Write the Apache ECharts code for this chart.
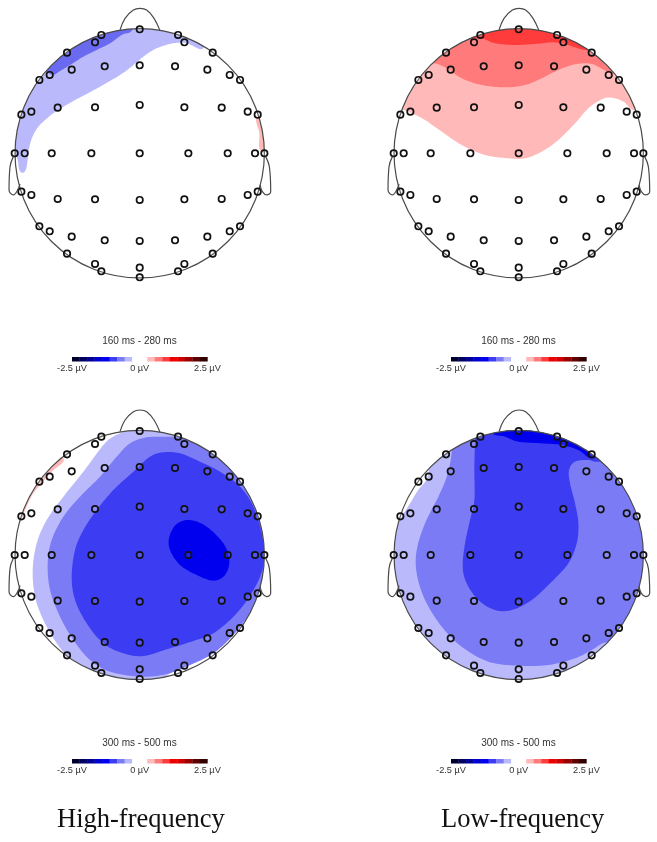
<!DOCTYPE html>
<html>
<head>
<meta charset="utf-8">
<style>html,body{margin:0;padding:0;background:#fff}#chart{width:657px;height:842px}</style>
<script src="https://cdn.jsdelivr.net/npm/echarts@6/dist/echarts.min.js"></script>
</head>
<body>
<div id="chart"></div>
<script>
// head units: origin at head centre, radius 374 (3 units = 1 px)
const headRadius = 374;
const electrodeX = [0,-115,115,-134,134,-218,219,-204,-270,-301,-105,0,106,203,270,301,
  -355,-325,-246,-134,0,134,246,324,354,
  -375,-345,-264,-145,0,146,264,346,374,
  -355,-325,-246,-134,0,134,246,324,354,
  -301,-270,-204,-105,0,106,203,270,301,
  -218,219,-134,134,-115,115,0,0];
const electrodeY = [372,355,355,333,333,302,302,251,235,220,261,264,261,251,235,220,
  116,125,137,138,145,138,137,125,116,
  0,0,0,0,0,0,0,0,0,
  -115,-125,-137,-138,-140,-138,-137,-125,-115,
  -219,-234,-250,-261,-263,-261,-250,-234,-219,
  -301,-301,-332,-332,-354,-354,-343,-372];
const nose = [[-59,370],[-44,405],[-19,430],[1,435],[21,430],[43,405],[61,368]];
const earLeft = [[-379,-10],[-389,-40],[-392,-110],[-379,-125],[-367,-112],[-359,-92]];
const earRight = [[378,-10],[389,-40],[393,-115],[381,-125],[368,-115],[361,-95]];

const blue1 = '#b9b9fc', blue2 = '#7b7bf6', blue3 = '#3c3cf2', blue4 = '#0000ef';
const red1 = '#ffb9b9', red2 = '#ff7b7b', red3 = '#ff3c3c';

// contour regions; points outside the head get cut by the head circle
const hfEarly = [
  {color: blue1, pts: [[-349,-58],[-339,-40],[-331,20],[-314,65],[-284,100],[-229,140],[-119,200],[-44,245],[11,290],[51,315],[101,330],[141,330],[191,315],[185,400],[0,420],[-319,260],[-400,60],[-369,-10],[-361,-50]]},
  {color: '#6a6af0', pts: [[-269,238],[-234,250],[-169,290],[-129,310],[-89,330],[-54,355],[-24,368],[-24,410],[-150,400],[-320,300]]},
  {color: red1, pts: [[351,105],[359,60],[361,10],[400,10],[400,110]]}
];
const lfEarly = [
  {color: red1, pts: [[-346,130],[-321,120],[-281,100],[-231,65],[-171,25],[-101,-5],[-31,-15],[19,-15],[69,5],[119,40],[169,90],[209,135],[249,162],[279,167],[314,155],[344,130],[400,130],[400,360],[0,420],[-371,260],[-391,130]]},
  {color: red2, pts: [[-253,270],[-216,255],[-171,225],[-111,205],[-41,198],[19,205],[69,225],[119,250],[169,267],[219,268],[269,245],[320,245],[300,400],[0,420],[-300,300],[-300,270]]},
  {color: red3, pts: [[-111,345],[-71,330],[-11,325],[49,328],[119,332],[199,310],[240,320],[100,420],[-100,420],[-160,350]]}
];
const hfLate = [
  {color: red1, pts: [[-229,290],[-269,245],[-319,185],[-344,135],[-364,95],[-420,95],[-330,320]]},
  {color: blue1, pts: [[-20,376],[-50,368],[-80,355],[-109,330],[-169,250],[-229,175],[-279,105],[-309,35],[-321,-45],[-314,-125],[-289,-195],[-249,-265],[-204,-315],[-129,-365],[0,-420],[420,0],[200,420]]},
  {color: blue2, pts: [[121,355],[81,355],[21,353],[-29,335],[-69,295],[-119,235],[-179,175],[-229,115],[-264,45],[-276,-25],[-269,-105],[-239,-185],[-199,-255],[-149,-315],[-89,-350],[1,-365],[81,-357],[151,-330],[221,-295],[281,-240],[331,-175],[381,-85],[431,0],[281,265],[141,365]]},
  {color: blue3, pts: [[71,308],[31,295],[-19,250],[-79,195],[-129,135],[-169,75],[-194,15],[-204,-65],[-194,-135],[-159,-205],[-109,-265],[-49,-295],[11,-303],[81,-283],[161,-258],[221,-235],[281,-185],[326,-130],[361,-65],[374,-5],[366,65],[341,145],[301,205],[241,250],[181,280],[121,305]]},
  {color: blue4, pts: [[151,105],[111,93],[89,55],[91,15],[121,-30],[171,-60],[221,-77],[256,-60],[269,-15],[251,35],[201,85]]}
];
const lfLate = [
  {color: blue1, pts: [[-270,250],[-305,190],[-345,125],[-360,110],[-420,100],[-420,-420],[420,-420],[420,420],[-270,420]]},
  {color: blue2, pts: [[-201,310],[-216,235],[-241,175],[-281,95],[-306,15],[-306,-55],[-281,-135],[-231,-215],[-171,-275],[-91,-320],[-1,-332],[89,-330],[169,-310],[219,-285],[265,-262],[330,-280],[430,0],[300,420],[-201,420]]},
  {color: blue3, pts: [[-131,350],[-133,265],[-133,165],[-146,105],[-161,35],[-168,-35],[-156,-85],[-121,-135],[-71,-165],[-21,-165],[39,-135],[99,-80],[149,-25],[174,35],[179,95],[169,155],[154,215],[151,255],[169,280],[209,285],[239,280],[300,300],[150,420],[-131,420]]},
  {color: blue4, pts: [[-81,368],[-41,355],[-1,340],[69,335],[129,330],[179,315],[219,290],[260,320],[100,430],[-81,430]]}
];

// colour bar bands from -2.5 to 2.5 uV
const barLow = [-2.5,-2.222,-1.944,-1.667,-1.389,-1.111,-0.833,-0.556,-0.278,0,0.278,0.556,0.833,1.111,1.389,1.667,1.944,2.222];
const barHigh = [-2.222,-1.944,-1.667,-1.389,-1.111,-0.833,-0.556,-0.278,0,0.278,0.556,0.833,1.111,1.389,1.667,1.944,2.222,2.5];
const barColors = ['#000030','#000060','#000098','#0000d0','#0000ef','#3c3cf2','#7b7bf6','#b9b9fc','#ffffff',
  '#ffffff','#ffb9b9','#ff7b7b','#ff3c3c','#ef0000','#d00000','#980000','#600000','#300000'];
const barTicks = [-2.5,0,2.5];

const panels = [
  {cx: 139.7, cy: 153.3, barTop: 357, title: '160 ms - 280 ms', regions: hfEarly},
  {cx: 518.7, cy: 153.3, barTop: 357, title: '160 ms - 280 ms', regions: lfEarly},
  {cx: 139.7, cy: 555, barTop: 759, title: '300 ms - 500 ms', regions: hfLate},
  {cx: 518.7, cy: 555, barTop: 759, title: '300 ms - 500 ms', regions: lfLate}
];
const captions = [['High-frequency', 57], ['Low-frequency', 441]];

const grid = [], xAxis = [], yAxis = [], series = [], title = [];

// closed Catmull-Rom outline through the read points, in pixels
function roundOutline(pts) {
  const out = [], n = pts.length;
  for (let i = 0; i < n; i++) {
    const a = pts[(i + n - 1) % n], b = pts[i], c = pts[(i + 1) % n], d = pts[(i + 2) % n];
    for (let s = 0; s < 12; s++) {
      const t = s / 12, t2 = t * t, t3 = t2 * t;
      out.push([0, 1].map(k => 0.5 * (2 * b[k] + (c[k] - a[k]) * t +
        (2 * a[k] - 5 * b[k] + 4 * c[k] - d[k]) * t2 + (3 * b[k] - a[k] - 3 * c[k] + d[k]) * t3)));
    }
  }
  return out;
}

function regionSeries(region, g) {
  return {
    type: 'custom', xAxisIndex: g, yAxisIndex: g, silent: true,
    data: [[0, 0]],
    renderItem: function (params, api) {
      const c = api.coord([0, 0]);
      const r = api.size([headRadius, headRadius])[0];
      return {
        type: 'polygon',
        shape: {points: roundOutline(region.pts.map(p => api.coord(p)))},
        style: {fill: region.color},
        clipPath: {type: 'circle', shape: {cx: c[0], cy: c[1], r: r}}
      };
    }
  };
}

function outlineSeries(points, g) {
  return {
    type: 'line', xAxisIndex: g, yAxisIndex: g, data: points, smooth: 0.4,
    showSymbol: false, silent: true, lineStyle: {color: '#4a4a4a', width: 1.2}
  };
}

panels.forEach(function (p, i) {
  const g = i * 2, b = g + 1;
  // head grid
  grid.push({left: p.cx - 135, top: p.cy - 150, width: 270, height: 300});
  xAxis.push({type: 'value', gridIndex: g, min: -405, max: 405, show: false});
  yAxis.push({type: 'value', gridIndex: g, min: -450, max: 450, show: false});
  // colour bar grid
  grid.push({left: p.cx - 67.7, top: p.barTop, width: 135.4, height: 4.5});
  xAxis.push({
    type: 'value', gridIndex: b, min: -2.5, max: 2.5, interval: 2.5,
    axisLine: {show: false}, axisTick: {show: false}, splitLine: {show: false},
    axisLabel: {
      show: true, margin: 2.5, fontFamily: 'Liberation Sans', fontSize: 9.2, color: '#333',
      customValues: barTicks, hideOverlap: false,
      formatter: v => v + ' µV'
    }
  });
  yAxis.push({type: 'value', gridIndex: b, min: 0, max: 1, show: false});

  p.regions.forEach(r => series.push(regionSeries(r, g)));

  series.push({
    type: 'custom', xAxisIndex: g, yAxisIndex: g, silent: true, data: [[0, 0]],
    renderItem: function (params, api) {
      const c = api.coord([0, 0]);
      return {
        type: 'circle',
        shape: {cx: c[0], cy: c[1], r: api.size([headRadius, headRadius])[0]},
        style: {fill: 'none', stroke: '#4a4a4a', lineWidth: 1.2}
      };
    }
  });
  series.push(outlineSeries(nose, g), outlineSeries(earLeft, g), outlineSeries(earRight, g));

  series.push({
    type: 'scatter', xAxisIndex: g, yAxisIndex: g, silent: true,
    data: electrodeX.map((x, k) => [x, electrodeY[k]]),
    symbol: 'circle', symbolSize: 6.4,
    itemStyle: {color: 'rgba(255,255,255,0.12)', borderColor: '#111', borderWidth: 1.7, opacity: 1}
  });

  series.push({
    type: 'custom', xAxisIndex: b, yAxisIndex: b, silent: true,
    data: barLow.map((v, k) => [v, barHigh[k], k]),
    renderItem: function (params, api) {
      const k = api.value(2);
      const from = api.coord([api.value(0), 1]);
      const to = api.coord([api.value(1), 0]);
      return {
        type: 'rect',
        shape: {x: from[0], y: from[1], width: to[0] - from[0] + 0.3, height: to[1] - from[1]},
        style: {fill: barColors[k]}
      };
    }
  });

  title.push({
    text: p.title, left: p.cx - 37.5, top: p.barTop - 21, padding: 0,
    textStyle: {fontFamily: 'Liberation Sans', fontSize: 10, fontWeight: 'normal', color: '#333'}
  });
});

captions.forEach(function (c) {
  title.push({
    text: c[0], left: c[1], top: 807, padding: 0,
    textStyle: {fontFamily: 'Liberation Serif', fontSize: 26.5, fontWeight: 'normal', color: '#111'}
  });
});

const chart = echarts.init(document.getElementById('chart'), null, {renderer: 'canvas'});
chart.setOption({
  backgroundColor: '#fff', animation: false,
  title: title, grid: grid, xAxis: xAxis, yAxis: yAxis, series: series
});
</script>
</body>
</html>
